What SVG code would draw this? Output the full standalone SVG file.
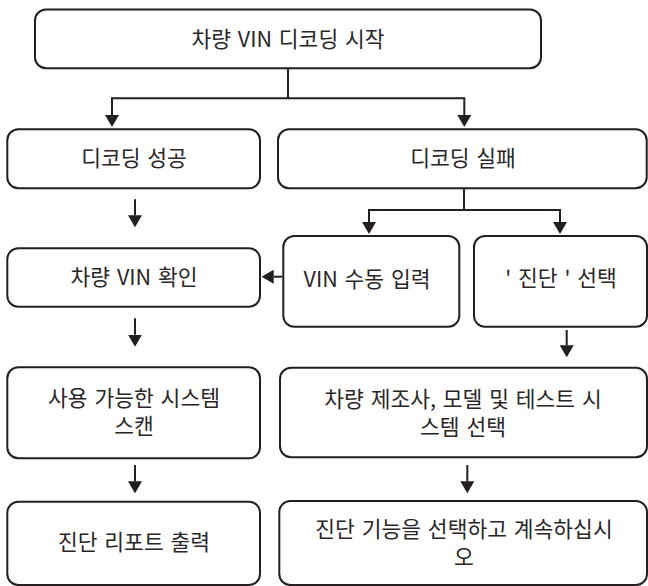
<svg xmlns="http://www.w3.org/2000/svg" width="648" height="586" viewBox="0 0 648 586">
  <style>
    .box { fill: #ffffff; stroke: #231f20; stroke-width: 2; }
    .lbl { font-family: "Noto Sans CJK KR", "Noto Sans", sans-serif; font-size: 21.5px; fill: #2a2627; text-anchor: middle; word-spacing: 2px; }
    .con { fill: none; stroke: #231f20; stroke-width: 2; }
  </style>
  <defs>
    <marker id="arr" viewBox="0 0 12 14" refX="0" refY="7" markerWidth="12" markerHeight="14" markerUnits="userSpaceOnUse" orient="auto">
      <path d="M0,0 L12,7 L0,14 z" fill="#231f20"/>
    </marker>
  </defs>
  <rect width="648" height="586" fill="#ffffff"/>

  <g id="connectors">
    <path class="con" d="M288,68.3 V98.3 H112 V115" marker-end="url(#arr)"/>
    <path class="con" d="M288,98.3 H464.3 V115" marker-end="url(#arr)"/>
    <path class="con" d="M135,199.3 V215.3" marker-end="url(#arr)"/>
    <path class="con" d="M464,188.3 V210 H369 V222" marker-end="url(#arr)"/>
    <path class="con" d="M464,210 H560 V222" marker-end="url(#arr)"/>
    <path class="con" d="M282.3,276.7 H273.7" marker-end="url(#arr)"/>
    <path class="con" d="M135,318.3 V334.7" marker-end="url(#arr)"/>
    <path class="con" d="M566.7,330 V345.3" marker-end="url(#arr)"/>
    <path class="con" d="M135,465 V481.3" marker-end="url(#arr)"/>
    <path class="con" d="M467.3,465 V481.3" marker-end="url(#arr)"/>
  </g>

  <g id="start">
    <rect class="box" x="35" y="9.5" width="506" height="58.8" rx="11"/>
    <text class="lbl" x="288" y="46.5">차량 VIN 디코딩 시작</text>
  </g>
  <g id="decode-success">
    <rect class="box" x="7.3" y="129.3" width="252.7" height="59" rx="11"/>
    <text class="lbl" x="134" y="166">디코딩 성공</text>
  </g>
  <g id="decode-fail">
    <rect class="box" x="278" y="129.3" width="368.7" height="59" rx="11"/>
    <text class="lbl" x="463" y="166">디코딩 실패</text>
  </g>
  <g id="check-vin">
    <rect class="box" x="7.3" y="248.3" width="252.7" height="58.4" rx="11"/>
    <text class="lbl" x="134" y="285">차량 VIN 확인</text>
  </g>
  <g id="manual-vin">
    <rect class="box" x="283.3" y="236" width="176" height="90.7" rx="11"/>
    <text class="lbl" x="367" y="287">VIN 수동 입력</text>
  </g>
  <g id="select-diag">
    <rect class="box" x="474" y="236" width="173" height="90.7" rx="11"/>
    <text class="lbl" x="561" y="286">' 진단 ' 선택</text>
  </g>
  <g id="scan-systems">
    <rect class="box" x="7.3" y="367.3" width="252.7" height="91" rx="11"/>
    <text class="lbl" x="134" y="406"><tspan x="134">사용 가능한 시스템</tspan><tspan x="134" dy="28">스캔</tspan></text>
  </g>
  <g id="select-vehicle">
    <rect class="box" x="280" y="367.7" width="367" height="89.6" rx="11"/>
    <text class="lbl" x="463" y="407"><tspan x="463">차량 제조사, 모델 및 테스트 시</tspan><tspan x="463" dy="28">스템 선택</tspan></text>
  </g>
  <g id="print-report">
    <rect class="box" x="7.3" y="501.7" width="252.7" height="83.3" rx="11"/>
    <text class="lbl" x="134" y="550">진단 리포트 출력</text>
  </g>
  <g id="select-function">
    <rect class="box" x="279.3" y="501" width="367.7" height="84" rx="11"/>
    <text class="lbl" x="464" y="537"><tspan x="464">진단 기능을 선택하고 계속하십시</tspan><tspan x="464" dy="28">오</tspan></text>
  </g>
</svg>
